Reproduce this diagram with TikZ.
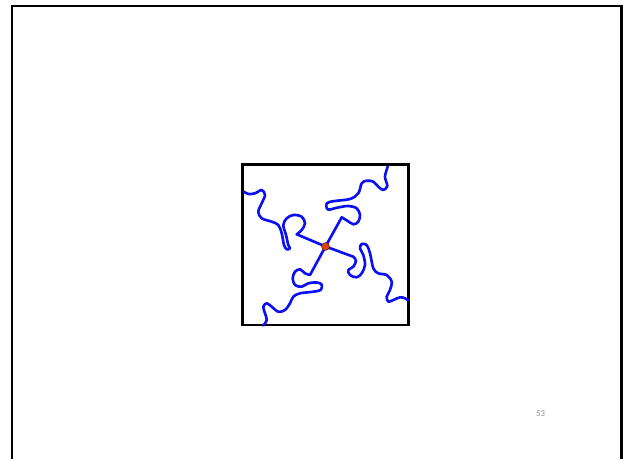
\documentclass[tikz,border=0pt]{standalone}
\usepackage{fontspec}
\setmainfont{Carlito}
\usetikzlibrary{positioning}
\definecolor{cblue}{HTML}{0A10F0}
\definecolor{cred}{HTML}{E0400F}
\definecolor{cdark}{HTML}{5A2A10}
\definecolor{cgrey}{HTML}{8C8C8C}
\tikzset{
  every picture/.style={x=0.04cm, y=-0.04cm},
  frame/.style={draw=black, line width=2.3pt},
  cell/.style={draw=black, line width=2.6pt},
  arm/.style={draw=cblue, line width=3pt, line cap=round, line join=round},
  hubdot/.style={circle, fill=cred, draw=cdark, line width=0.6pt, minimum size=9pt, inner sep=0pt},
  pagenum/.style={font=\fontsize{10}{12}\selectfont, text=cgrey, inner sep=0pt},
}

\begin{document}
\begin{tikzpicture}
  \useasboundingbox (0,0) rectangle (625,459);
  % slide frame and box
  \draw[frame] (12,6) rectangle (621.5,475);
  \draw[cell] (242.5,164.5) rectangle (408.5,325);
  \coordinate (hub) at (325.5,246.5);
  % four wiggly chains from the hub
  \draw[arm] (hub) -- plot[smooth, tension=0.55] coordinates {(341.7,217.3) (347,220.5) (353.3,224.3) (358.3,221.7) (360,215) (356.7,208.3) (348.3,206) (338,207.5) (328,209.5) (326.7,203.5) (333.3,201.2) (350,199) (358.3,193.3) (361.7,183.3) (366.7,180.7) (373.3,181.7) (378.3,186.7) (383.3,190) (387.3,186) (385,176.7) (387.7,166.7)};
  \draw[arm] (hub) -- plot[smooth, tension=0.55] coordinates {(296.7,234.3) (301.7,230) (305,223.3) (301.7,216.7) (293.3,215) (286.7,218.3) (283.3,225) (286,235) (288.3,245) (290,248.3) (286.7,249.3) (284,245) (281.7,233.3) (278.3,225) (271.7,221.7) (261.7,218.3) (258.3,211.7) (261.7,203.3) (265,195) (261.7,190) (255,193.3) (248.3,194) (244,191.7)};
  \draw[arm] (hub) -- plot[smooth, tension=0.55] coordinates {(310,275) (305,273.3) (300,269.3) (295,271.7) (292.7,278.3) (295,285) (301.7,286.7) (308.3,283.3) (316.7,282.5) (321.7,284.5) (320.7,290) (313.3,291.7) (300,293.3) (293.3,296.7) (290,303.3) (285,310) (278.3,311.7) (271.7,306.7) (266.7,303.3) (263.3,306.7) (265,313.3) (266.7,320) (263.3,325.5)};
  \draw[arm] (hub) -- plot[smooth, tension=0.55] coordinates {(353.3,256.7) (356,260.7) (353.3,266.7) (348.3,270) (350,275) (356.7,277.3) (361.7,273.3) (365,265) (363.3,255) (360,248.3) (361.7,244) (366.7,245) (370,253.3) (373.3,268.3) (378.3,273.3) (386.7,275) (391.7,281.7) (390,290) (386.7,296.7) (388.3,301.7) (393.3,300) (400,297.3) (405,298.3) (408.5,300.5)};
  \node[hubdot] (dot) at (hub) {};
  % slide number
  \node[pagenum] (num) at (540.5,414) {53};
\end{tikzpicture}
\end{document}
